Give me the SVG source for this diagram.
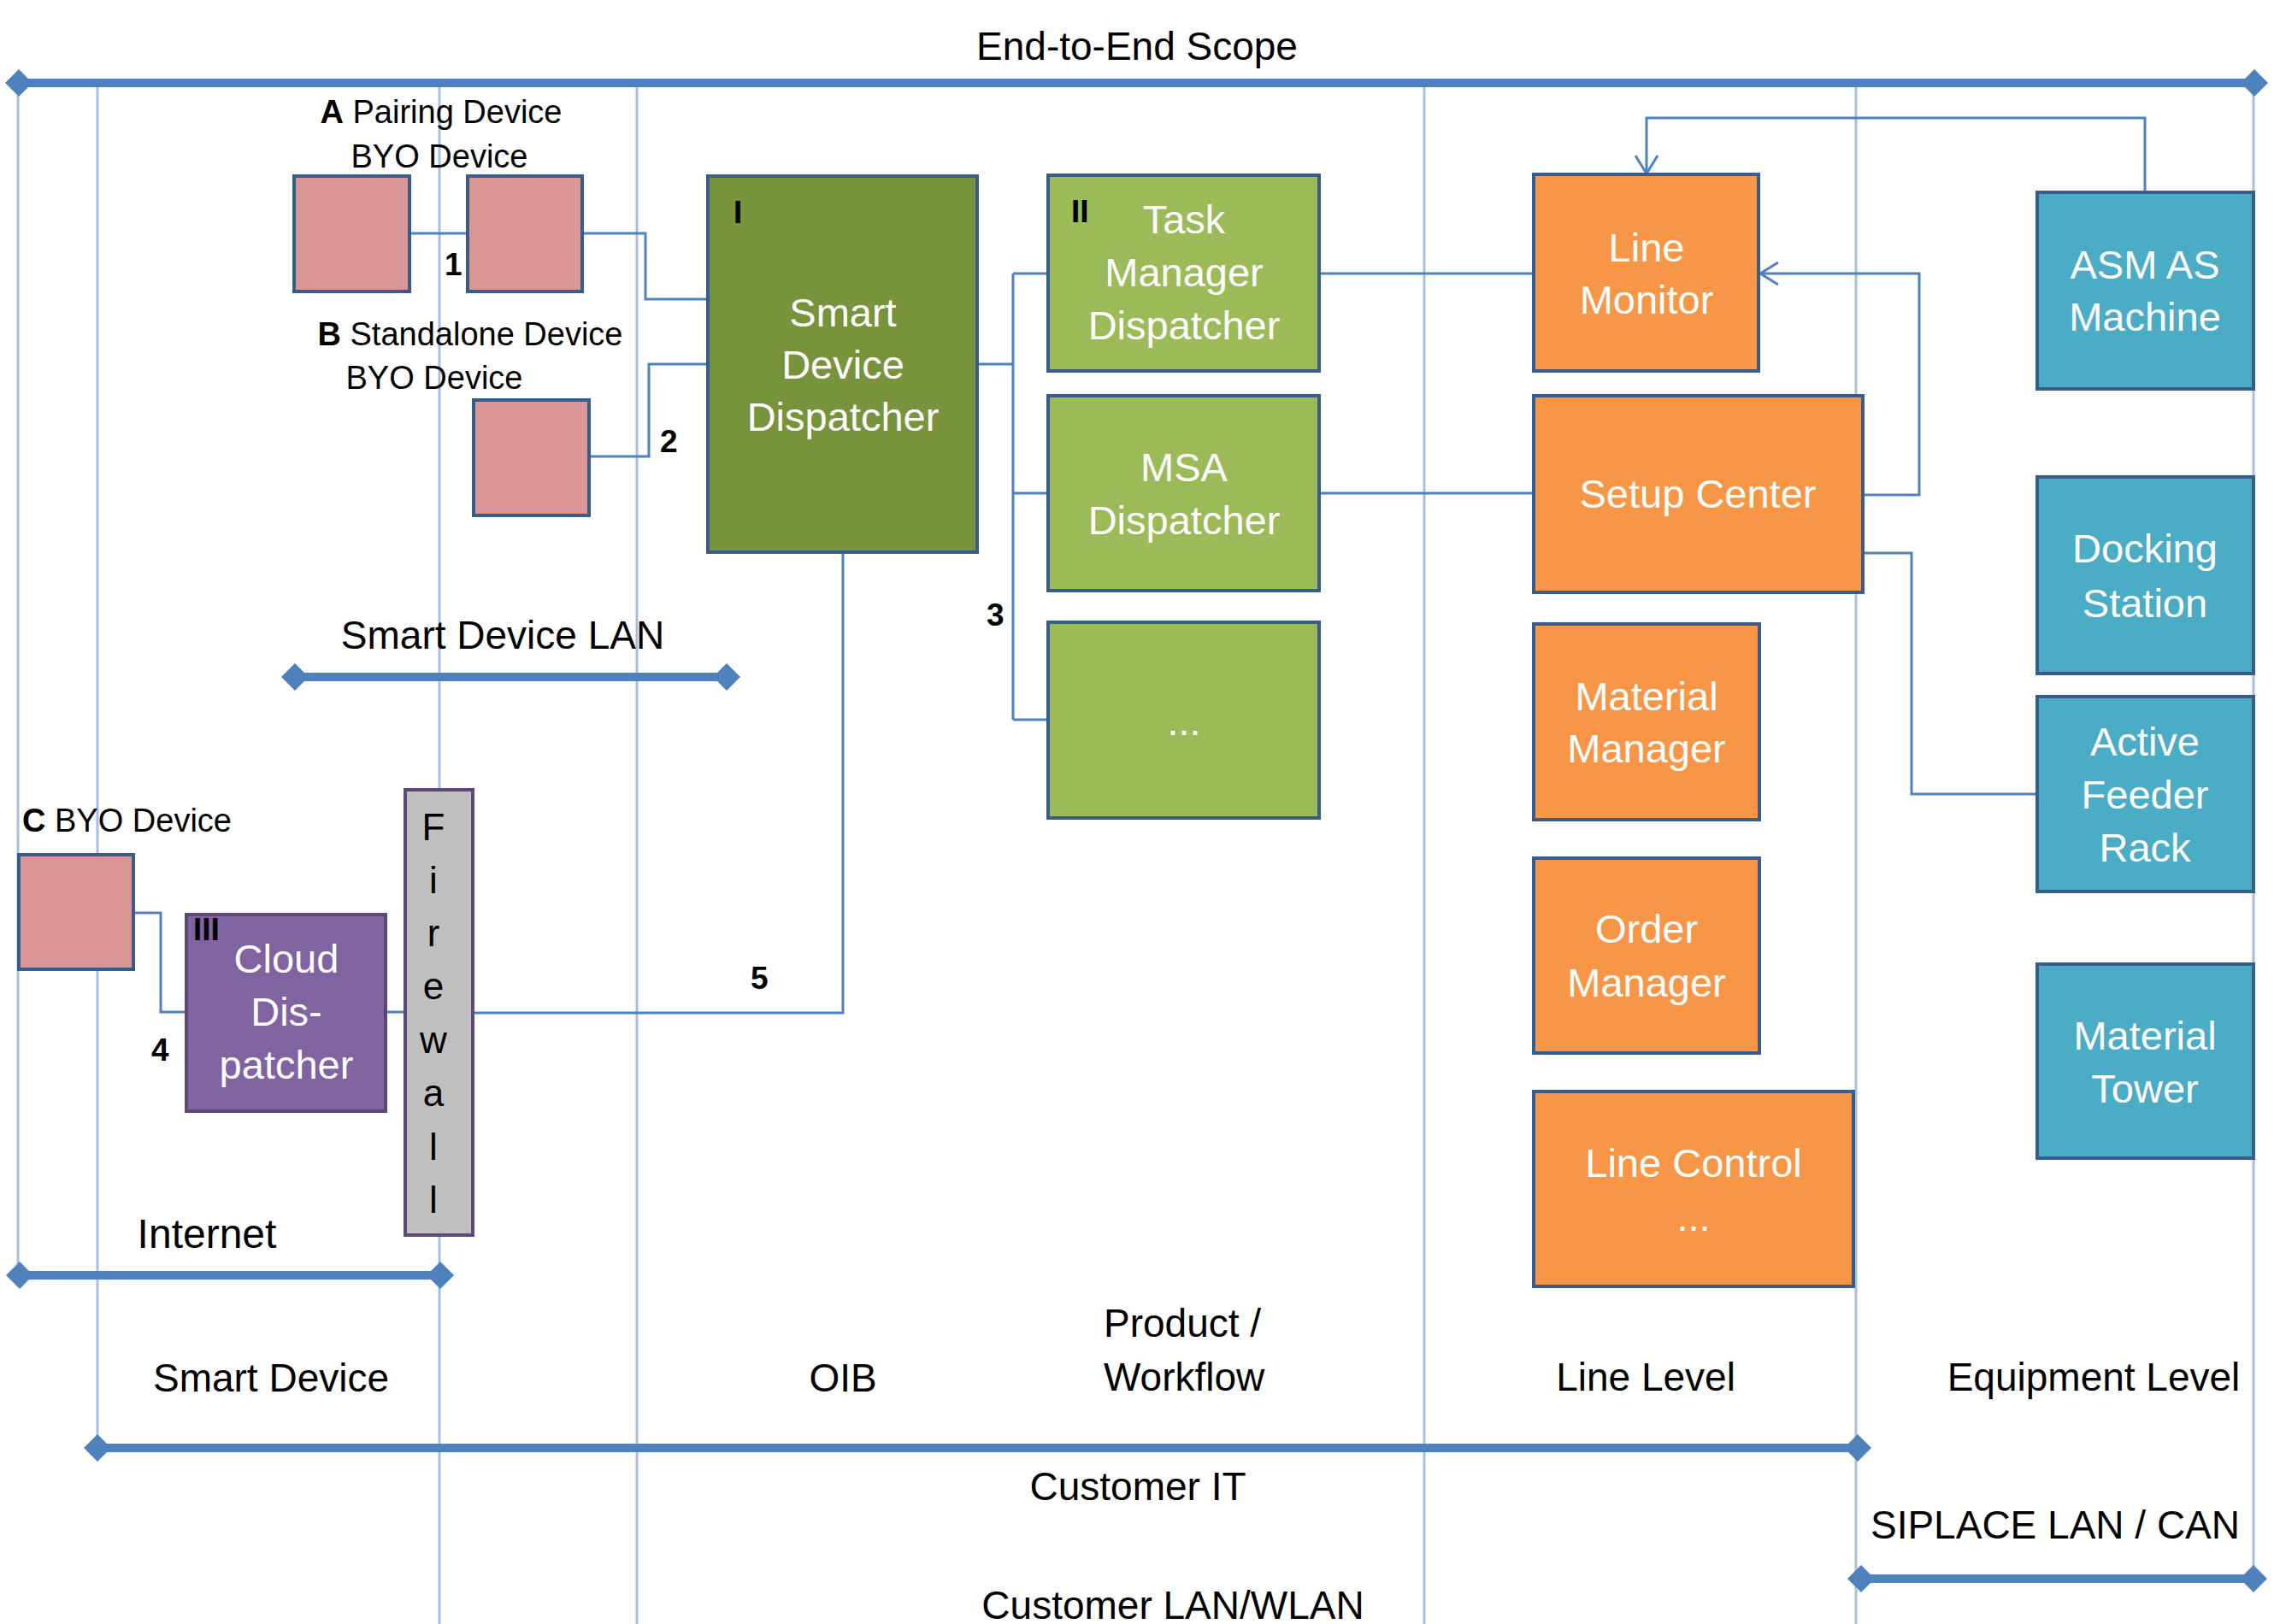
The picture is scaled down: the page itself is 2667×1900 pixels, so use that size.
<svg xmlns="http://www.w3.org/2000/svg" width="2667" height="1900" viewBox="0 0 2667 1900">
<style>
text{font-family:"Liberation Sans",Arial,sans-serif;}
.grid{stroke:#a7bfde;stroke-width:3;fill:none;}
.scope{stroke:#4f81bd;stroke-width:10;fill:none;marker-start:url(#dia);marker-end:url(#dia);}
.conn{stroke:#4f81bd;stroke-width:3;fill:none;}
.box{stroke:#385d8a;stroke-width:4;}
.pink{fill:#d99694;}
.dgreen{fill:#77933c;}
.lgreen{fill:#9bbb59;}
.orange{fill:#f79646;}
.teal{fill:#4bacc6;}
.purple{fill:#8064a2;stroke:#5c4776;stroke-width:4;}
.fw{fill:#bfbfbf;stroke:#5f497a;stroke-width:4;}
.nl{fill:#ffffff;font-size:47px;text-anchor:middle;}
.lbl{fill:#000000;font-size:46px;}
.sm{fill:#000000;font-size:38px;}
.num{fill:#000000;font-size:37px;font-weight:bold;}
.fwt{fill:#000000;font-size:44px;text-anchor:middle;}
.mid{text-anchor:middle;}
</style>
<defs>
<marker id="dia" viewBox="0 0 32 32" refX="16" refY="16" markerWidth="32" markerHeight="32" markerUnits="userSpaceOnUse" orient="0">
<path d="M0,16 L16,0 L32,16 L16,32 Z" fill="#4f81bd"/>
</marker>
<marker id="arr" viewBox="0 0 24 28" refX="22" refY="14" markerWidth="24" markerHeight="28" markerUnits="userSpaceOnUse" orient="auto">
<path d="M1,1 L22,14 L1,27" fill="none" stroke="#4f81bd" stroke-width="3"/>
</marker>
</defs>
<rect x="0" y="0" width="2667" height="1900" fill="#ffffff"/>

<g id="grid-lines">
<line class="grid" x1="21" y1="97" x2="21" y2="1505"/>
<line class="grid" x1="114" y1="97" x2="114" y2="1708"/>
<line class="grid" x1="514" y1="97" x2="514" y2="1900"/>
<line class="grid" x1="745" y1="97" x2="745" y2="1900"/>
<line class="grid" x1="1666" y1="97" x2="1666" y2="1900"/>
<line class="grid" x1="2171" y1="97" x2="2171" y2="1900"/>
<line class="grid" x1="2636" y1="97" x2="2636" y2="1860"/>
</g>

<g id="scope-lines">
<line class="scope" x1="22" y1="97" x2="2637" y2="97"/>
<line class="scope" x1="345" y1="792" x2="850" y2="792"/>
<line class="scope" x1="23" y1="1492" x2="515" y2="1492"/>
<line class="scope" x1="114" y1="1694" x2="2173" y2="1694"/>
<line class="scope" x1="2177" y1="1847" x2="2636" y2="1847"/>
</g>

<g id="scope-labels">
<text class="lbl mid" x="1330" y="70" font-size="45">End-to-End Scope</text>
<text class="lbl mid" x="588" y="759">Smart Device LAN</text>
<text class="lbl mid" x="242" y="1460" style="font-size:48px">Internet</text>
<text class="lbl mid" x="317" y="1628">Smart Device</text>
<text class="lbl mid" x="986" y="1628">OIB</text>
<text class="lbl" x="1291" y="1564">Product /</text>
<text class="lbl" x="1291" y="1627">Workflow</text>
<text class="lbl mid" x="1925" y="1627">Line Level</text>
<text class="lbl mid" x="2449" y="1627">Equipment Level</text>
<text class="lbl mid" x="1331" y="1755">Customer IT</text>
<text class="lbl mid" x="2404" y="1800">SIPLACE LAN / CAN</text>
<text class="lbl mid" x="1372" y="1894">Customer LAN/WLAN</text>
</g>

<g id="connectors">
<path class="conn" d="M479,273 H547"/>
<path class="conn" d="M681,273 H755 V350 H828"/>
<path class="conn" d="M689,534 H759 V426 H828"/>
<path class="conn" d="M1143,426 H1185"/>
<path class="conn" d="M1185,320 V842"/>
<path class="conn" d="M1185,320 H1226"/>
<path class="conn" d="M1185,577 H1226"/>
<path class="conn" d="M1185,842 H1226"/>
<path class="conn" d="M1543,320 H1794"/>
<path class="conn" d="M1543,577 H1794"/>
<path class="conn" d="M2509,225 V138 H1926 V203" marker-end="url(#arr)"/>
<path class="conn" d="M2179,579 H2245 V320 H2059" marker-end="url(#arr)"/>
<path class="conn" d="M2179,647 H2236 V929 H2383"/>
<path class="conn" d="M156,1068 H188 V1184 H218"/>
<path class="conn" d="M451,1184 H474"/>
<path class="conn" d="M553,1185 H986 V646"/>
</g>

<g id="connector-labels">
<text class="num" x="520" y="322">1</text>
<text class="num" x="772" y="529">2</text>
<text class="num" x="1154" y="732">3</text>
<text class="num" x="177" y="1241">4</text>
<text class="num" x="878" y="1157">5</text>
</g>

<g id="device-a">
<text class="sm mid" x="516" y="144"><tspan font-weight="bold">A</tspan> Pairing Device</text>
<text class="sm mid" x="514" y="196">BYO Device</text>
<rect class="box pink" x="344" y="206" width="135" height="135"/>
<rect class="box pink" x="547" y="206" width="134" height="135"/>
</g>

<g id="device-b">
<text class="sm mid" x="550" y="404"><tspan font-weight="bold">B</tspan> Standalone Device</text>
<text class="sm mid" x="508" y="455">BYO Device</text>
<rect class="box pink" x="554" y="468" width="135" height="135"/>
</g>

<g id="device-c">
<text class="sm" x="26" y="973"><tspan font-weight="bold">C</tspan> BYO Device</text>
<rect class="box pink" x="22" y="1000" width="134" height="134"/>
</g>

<g id="smart-device-dispatcher">
<rect class="box dgreen" x="828" y="206" width="315" height="440"/>
<text class="num" x="858" y="261">I</text>
<text class="nl" x="986" y="382">Smart</text>
<text class="nl" x="986" y="443">Device</text>
<text class="nl" x="986" y="504">Dispatcher</text>
</g>

<g id="task-manager-dispatcher">
<rect class="box lgreen" x="1226" y="205" width="317" height="229"/>
<text class="num" x="1253" y="260">II</text>
<text class="nl" x="1385" y="273">Task</text>
<text class="nl" x="1385" y="335">Manager</text>
<text class="nl" x="1385" y="397">Dispatcher</text>
</g>

<g id="msa-dispatcher">
<rect class="box lgreen" x="1226" y="463" width="317" height="228"/>
<text class="nl" x="1385" y="563">MSA</text>
<text class="nl" x="1385" y="625">Dispatcher</text>
</g>

<g id="more-dispatchers">
<rect class="box lgreen" x="1226" y="728" width="317" height="229"/>
<text class="nl" x="1385" y="860">...</text>
</g>

<g id="line-monitor">
<rect class="box orange" x="1794" y="204" width="263" height="230"/>
<text class="nl" x="1926" y="306">Line</text>
<text class="nl" x="1926" y="367">Monitor</text>
</g>

<g id="setup-center">
<rect class="box orange" x="1794" y="463" width="385" height="230"/>
<text class="nl" x="1986" y="594">Setup Center</text>
</g>

<g id="material-manager">
<rect class="box orange" x="1794" y="730" width="264" height="229"/>
<text class="nl" x="1926" y="831">Material</text>
<text class="nl" x="1926" y="892">Manager</text>
</g>

<g id="order-manager">
<rect class="box orange" x="1794" y="1004" width="264" height="228"/>
<text class="nl" x="1926" y="1103">Order</text>
<text class="nl" x="1926" y="1166">Manager</text>
</g>

<g id="line-control">
<rect class="box orange" x="1794" y="1277" width="374" height="228"/>
<text class="nl" x="1981" y="1377">Line Control</text>
<text class="nl" x="1981" y="1440">...</text>
</g>

<g id="asm-as-machine">
<rect class="box teal" x="2383" y="225" width="253" height="230"/>
<text class="nl" x="2509" y="326">ASM AS</text>
<text class="nl" x="2509" y="387">Machine</text>
</g>

<g id="docking-station">
<rect class="box teal" x="2383" y="558" width="253" height="230"/>
<text class="nl" x="2509" y="658">Docking</text>
<text class="nl" x="2509" y="722">Station</text>
</g>

<g id="active-feeder-rack">
<rect class="box teal" x="2383" y="815" width="253" height="228"/>
<text class="nl" x="2509" y="884">Active</text>
<text class="nl" x="2509" y="946">Feeder</text>
<text class="nl" x="2509" y="1008">Rack</text>
</g>

<g id="material-tower">
<rect class="box teal" x="2383" y="1128" width="253" height="227"/>
<text class="nl" x="2509" y="1228">Material</text>
<text class="nl" x="2509" y="1290">Tower</text>
</g>

<g id="cloud-dispatcher">
<rect class="purple" x="218" y="1070" width="233" height="230"/>
<text class="num" x="226" y="1100">III</text>
<text class="nl" x="335" y="1138">Cloud</text>
<text class="nl" x="335" y="1200">Dis-</text>
<text class="nl" x="335" y="1262">patcher</text>
</g>

<g id="firewall">
<rect class="fw" x="474" y="924" width="79" height="521"/>
<text class="fwt" x="507" y="983">F</text>
<text class="fwt" x="507" y="1045">i</text>
<text class="fwt" x="507" y="1107">r</text>
<text class="fwt" x="507" y="1169">e</text>
<text class="fwt" x="507" y="1232">w</text>
<text class="fwt" x="507" y="1294">a</text>
<text class="fwt" x="507" y="1357">l</text>
<text class="fwt" x="507" y="1419">l</text>
</g>
</svg>
